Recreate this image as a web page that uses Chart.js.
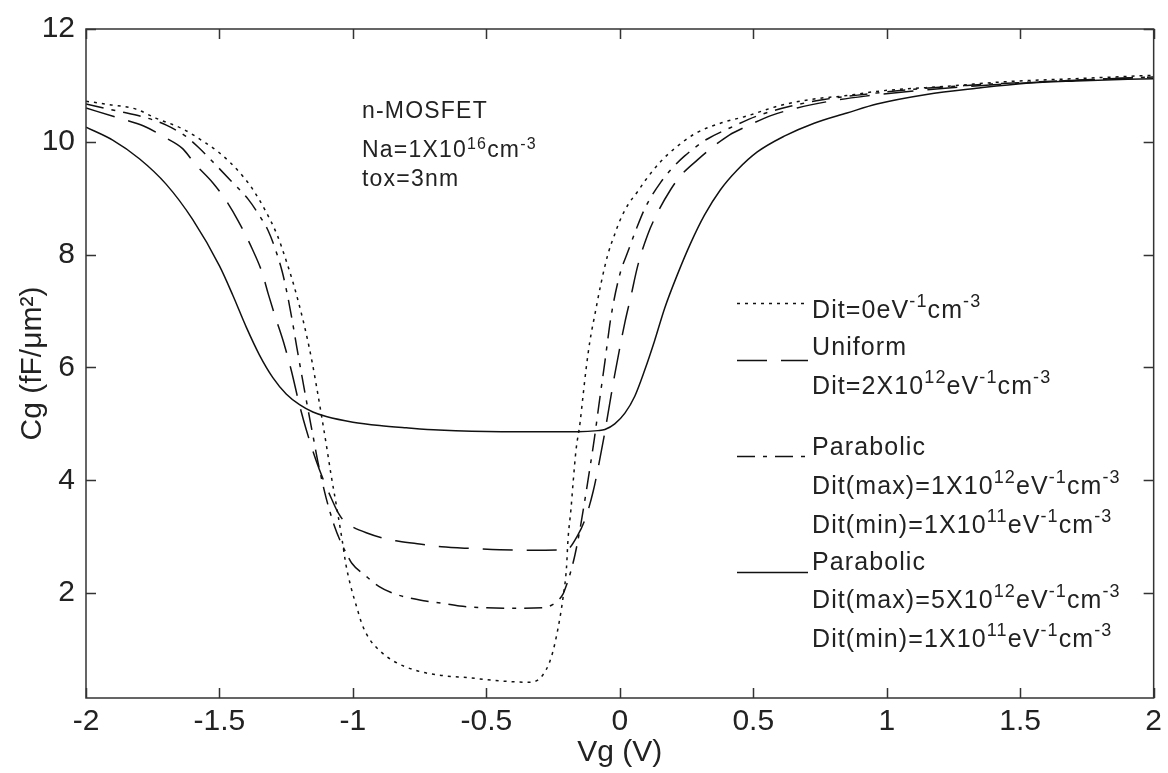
<!DOCTYPE html>
<html>
<head>
<meta charset="utf-8">
<script src="https://cdn.jsdelivr.net/npm/chart.js@4.4.1/dist/chart.umd.min.js"></script>
<style>
  html, body { margin: 0; padding: 0; background: #fff; }
  #wrap { width: 1168px; height: 773px; }
</style>
</head>
<body>
<div id="wrap"><canvas id="c" width="1168" height="773"></canvas></div>
<script>
// ---------- data ----------
const vgDit0 = [-2, -1.914, -1.813, -1.739, -1.638, -1.552, -1.504, -1.459, -1.414, -1.377, -1.328, -1.284, -1.254, -1.224, -1.198, -1.175, -1.153, -1.134, -1.116, -1.097, -1.082, -1.06, -1.041, -1.026, -1.007, -0.985, -0.966, -0.94, -0.9, -0.85, -0.765, -0.668, -0.567, -0.466, -0.343, -0.295, -0.257, -0.231, -0.213, -0.2, -0.194, -0.183, -0.175, -0.164, -0.149, -0.138, -0.127, -0.112, -0.093, -0.07, -0.045, -0.02, 0.0, 0.03, 0.067, 0.093, 0.153, 0.205, 0.28, 0.377, 0.478, 0.59, 0.713, 0.851, 0.974, 1.21, 1.46, 1.709, 2.0];
const cgDit0 = [10.72, 10.66, 10.58, 10.42, 10.23, 9.98, 9.82, 9.63, 9.4, 9.17, 8.78, 8.35, 7.95, 7.5, 7.05, 6.6, 6.1, 5.6, 5.1, 4.55, 4.1, 3.5, 2.96, 2.5, 2.1, 1.74, 1.45, 1.2, 0.98, 0.8, 0.63, 0.54, 0.5, 0.45, 0.42, 0.51, 0.86, 1.39, 1.91, 2.44, 2.96, 3.49, 3.96, 4.54, 5.02, 5.49, 5.95, 6.47, 6.95, 7.5, 8.0, 8.35, 8.6, 8.88, 9.12, 9.3, 9.65, 9.88, 10.14, 10.33, 10.46, 10.63, 10.75, 10.82, 10.9, 10.98, 11.07, 11.12, 11.18];

const vgUniform = [-2, -1.877, -1.784, -1.701, -1.638, -1.59, -1.526, -1.478, -1.43, -1.377, -1.34, -1.317, -1.291, -1.26, -1.231, -1.201, -1.175, -1.138, -1.11, -1.078, -1.055, -1.03, -1.004, -0.95, -0.877, -0.828, -0.75, -0.668, -0.55, -0.45, -0.3, -0.2, -0.157, -0.127, -0.1, -0.08, -0.06, -0.04, -0.02, 0.0, 0.019, 0.041, 0.067, 0.104, 0.142, 0.19, 0.228, 0.291, 0.354, 0.41, 0.478, 0.563, 0.664, 0.787, 0.92, 1.1, 1.3, 1.5, 1.75, 2.0];
const cgUniform = [10.6, 10.42, 10.28, 10.07, 9.88, 9.6, 9.28, 8.98, 8.6, 8.1, 7.68, 7.3, 6.9, 6.45, 5.95, 5.35, 4.9, 4.35, 4.0, 3.65, 3.42, 3.26, 3.18, 3.07, 2.96, 2.92, 2.87, 2.82, 2.79, 2.77, 2.76, 2.77, 3.03, 3.35, 3.8, 4.25, 4.75, 5.3, 5.85, 6.35, 6.8, 7.25, 7.8, 8.35, 8.75, 9.15, 9.4, 9.68, 9.93, 10.12, 10.28, 10.46, 10.6, 10.72, 10.81, 10.9, 10.98, 11.04, 11.1, 11.15];

const vgPara1 = [-2, -1.877, -1.784, -1.701, -1.627, -1.578, -1.526, -1.451, -1.392, -1.354, -1.317, -1.291, -1.265, -1.246, -1.228, -1.21, -1.19, -1.17, -1.15, -1.13, -1.1, -1.07, -1.045, -1.026, -1.004, -0.951, -0.903, -0.84, -0.728, -0.668, -0.6, -0.5, -0.4, -0.287, -0.25, -0.231, -0.213, -0.2, -0.187, -0.168, -0.149, -0.131, -0.112, -0.095, -0.078, -0.056, -0.033, 0, 0.03, 0.063, 0.097, 0.153, 0.198, 0.243, 0.328, 0.414, 0.515, 0.638, 0.765, 0.914, 1.1, 1.3, 1.5, 1.75, 2.0];
const cgPara1 = [10.67, 10.54, 10.44, 10.3, 10.1, 9.9, 9.65, 9.28, 8.98, 8.72, 8.42, 8.1, 7.7, 7.3, 6.85, 6.35, 5.82, 5.3, 4.8, 4.3, 3.68, 3.2, 2.9, 2.72, 2.53, 2.3, 2.12, 1.98, 1.86, 1.82, 1.77, 1.74, 1.73, 1.74, 1.8, 1.87, 1.98, 2.14, 2.33, 2.68, 3.14, 3.65, 4.22, 4.75, 5.35, 6.1, 6.9, 7.65, 8.05, 8.47, 8.85, 9.28, 9.54, 9.75, 10.05, 10.25, 10.46, 10.63, 10.75, 10.84, 10.93, 11.0, 11.05, 11.1, 11.15];

const vgPara5 = [-2, -1.9, -1.8, -1.7, -1.6, -1.5, -1.45, -1.4, -1.35, -1.3, -1.25, -1.2, -1.15, -1.1, -1.0, -0.9, -0.8, -0.679, -0.444, -0.157, -0.082, -0.056, -0.019, 0.019, 0.056, 0.093, 0.13, 0.168, 0.216, 0.265, 0.317, 0.377, 0.44, 0.515, 0.616, 0.728, 0.851, 0.963, 1.149, 1.336, 1.522, 1.709, 2.0];
const cgPara5 = [10.26, 10.03, 9.7, 9.25, 8.62, 7.8, 7.28, 6.72, 6.22, 5.82, 5.53, 5.34, 5.21, 5.13, 5.03, 4.97, 4.93, 4.89, 4.86, 4.86, 4.88, 4.9, 5.0, 5.19, 5.49, 5.95, 6.47, 7.05, 7.65, 8.2, 8.7, 9.15, 9.5, 9.82, 10.1, 10.33, 10.51, 10.67, 10.84, 10.95, 11.04, 11.08, 11.12];

const xTickLabels = ['-2', '-1.5', '-1', '-0.5', '0', '0.5', '1', '1.5', '2'];
const yTickValues = [2, 4, 6, 8, 10, 12];
const yTickLabels = ['2', '4', '6', '8', '10', '12'];

const xTitle = 'Vg (V)';
const yTitle = 'Cg (fF/\u03BCm\u00B2)';

// legend rows: '^' marks a superscript piece
const legendRows = [
  ['Dit=0eV', '^-1', 'cm', '^-3'],
  ['Uniform'],
  ['Dit=2X10', '^12', 'eV', '^-1', 'cm', '^-3'],
  ['Parabolic'],
  ['Dit(max)=1X10', '^12', 'eV', '^-1', 'cm', '^-3'],
  ['Dit(min)=1X10', '^11', 'eV', '^-1', 'cm', '^-3'],
  ['Parabolic'],
  ['Dit(max)=5X10', '^12', 'eV', '^-1', 'cm', '^-3'],
  ['Dit(min)=1X10', '^11', 'eV', '^-1', 'cm', '^-3']
];
const legendBaselines = [318, 355, 394, 455, 494, 533, 570, 608, 647];
const legendSamples = [303, 360, 456, 572];

const noteRows = [
  ['n-MOSFET'],
  ['Na=1X10', '^16', 'cm', '^-3'],
  ['tox=3nm']
];
const noteBaselines = [118, 157, 186];

// ---------- helpers ----------
const FONT = '"Liberation Sans", Arial, Helvetica, sans-serif';
function toPts(xs, ys) { return xs.map((x, i) => ({ x: x, y: ys[i] })); }

function drawRich(ctx, x, y, parts, size, supSize, raise, spacing) {
  let cx = x;
  ctx.textBaseline = 'alphabetic';
  ctx.textAlign = 'left';
  for (const p of parts) {
    const sup = p.charAt(0) === '^';
    const t = sup ? p.slice(1) : p;
    ctx.font = (sup ? supSize : size) + 'px ' + FONT;
    try { ctx.letterSpacing = spacing + 'px'; } catch (e) {}
    ctx.fillText(t, cx, sup ? y - raise : y);
    cx += ctx.measureText(t).width;
  }
  try { ctx.letterSpacing = '0px'; } catch (e) {}
}

const dashDot = [3, 5];
const dashLong = [30, 14];
const dashDD = [18, 8, 4, 8];

const frameAndTicks = {
  id: 'frameAndTicks',
  afterDraw(chart) {
    const ctx = chart.ctx;
    const a = chart.chartArea;
    const xs = chart.scales.x, ys = chart.scales.y;
    ctx.save();
    ctx.strokeStyle = '#333';
    ctx.lineWidth = 1.5;
    ctx.setLineDash([]);
    ctx.strokeRect(a.left, a.top, a.right - a.left, a.bottom - a.top);
    const L = 10;
    ctx.beginPath();
    xs.ticks.forEach(t => {
      const px = Math.round(xs.getPixelForValue(t.value)) + 0.5;
      ctx.moveTo(px, a.bottom); ctx.lineTo(px, a.bottom - L);
      ctx.moveTo(px, a.top); ctx.lineTo(px, a.top + L);
    });
    ys.ticks.forEach(t => {
      const py = Math.round(ys.getPixelForValue(t.value)) + 0.5;
      ctx.moveTo(a.left, py); ctx.lineTo(a.left + L, py);
      ctx.moveTo(a.right, py); ctx.lineTo(a.right - L, py);
    });
    ctx.stroke();

    // annotation text
    ctx.fillStyle = '#222';
    noteRows.forEach((r, i) => drawRich(ctx, 362, noteBaselines[i], r, 23, 16, 8, 1.2));

    // legend
    const ds = chart.data.datasets;
    legendSamples.forEach((y, i) => {
      ctx.beginPath();
      ctx.strokeStyle = '#111';
      ctx.lineWidth = 1.5;
      ctx.setLineDash(ds[i].borderDash || []);
      ctx.moveTo(737, y + 0.5); ctx.lineTo(808, y + 0.5);
      ctx.stroke();
    });
    ctx.setLineDash([]);
    ctx.fillStyle = '#222';
    legendRows.forEach((r, i) => drawRich(ctx, 812, legendBaselines[i], r, 25, 18, 11, 1.1));
    ctx.restore();
  }
};

const common = { borderColor: '#111', borderWidth: 1.5, pointRadius: 0, fill: false, cubicInterpolationMode: 'monotone' };

new Chart(document.getElementById('c'), {
  type: 'line',
  data: {
    datasets: [
      Object.assign({ label: 'Dit=0', data: toPts(vgDit0, cgDit0), borderDash: dashDot }, common),
      Object.assign({ label: 'Uniform', data: toPts(vgUniform, cgUniform), borderDash: dashLong }, common),
      Object.assign({ label: 'Parabolic 1e12', data: toPts(vgPara1, cgPara1), borderDash: dashDD }, common),
      Object.assign({ label: 'Parabolic 5e12', data: toPts(vgPara5, cgPara5), borderDash: [] }, common)
    ]
  },
  options: {
    responsive: false,
    devicePixelRatio: 1,
    animation: false,
    layout: { padding: { top: 24, right: 10, left: 0, bottom: 0 } },
    plugins: { legend: { display: false }, tooltip: { enabled: false } },
    scales: {
      x: {
        type: 'linear', min: -2, max: 2,
        ticks: {
          stepSize: 0.5, padding: 6, color: '#222', maxRotation: 0, autoSkip: false,
          font: { family: FONT, size: 30 },
          callback: (v, i) => xTickLabels[i]
        },
        grid: { display: true, drawOnChartArea: false, drawTicks: false },
        border: { display: false },
        title: { display: true, text: xTitle, color: '#222', font: { family: FONT, size: 30 }, padding: { top: 0, bottom: 2 } },
        afterFit(s) { s.height = 75; }
      },
      y: {
        type: 'linear', min: 0.14, max: 12,
        afterBuildTicks(s) { s.ticks = yTickValues.map(v => ({ value: v })); },
        ticks: {
          padding: 11, color: '#222',
          font: { family: FONT, size: 30 },
          callback: (v, i) => yTickLabels[i]
        },
        grid: { display: true, drawOnChartArea: false, drawTicks: false },
        border: { display: false },
        title: { display: true, text: yTitle, color: '#222', font: { family: FONT, size: 30 }, padding: { top: 15, bottom: 0 } },
        afterFit(s) { s.width = 86; }
      }
    }
  },
  plugins: [frameAndTicks]
});
</script>
</body>
</html>
